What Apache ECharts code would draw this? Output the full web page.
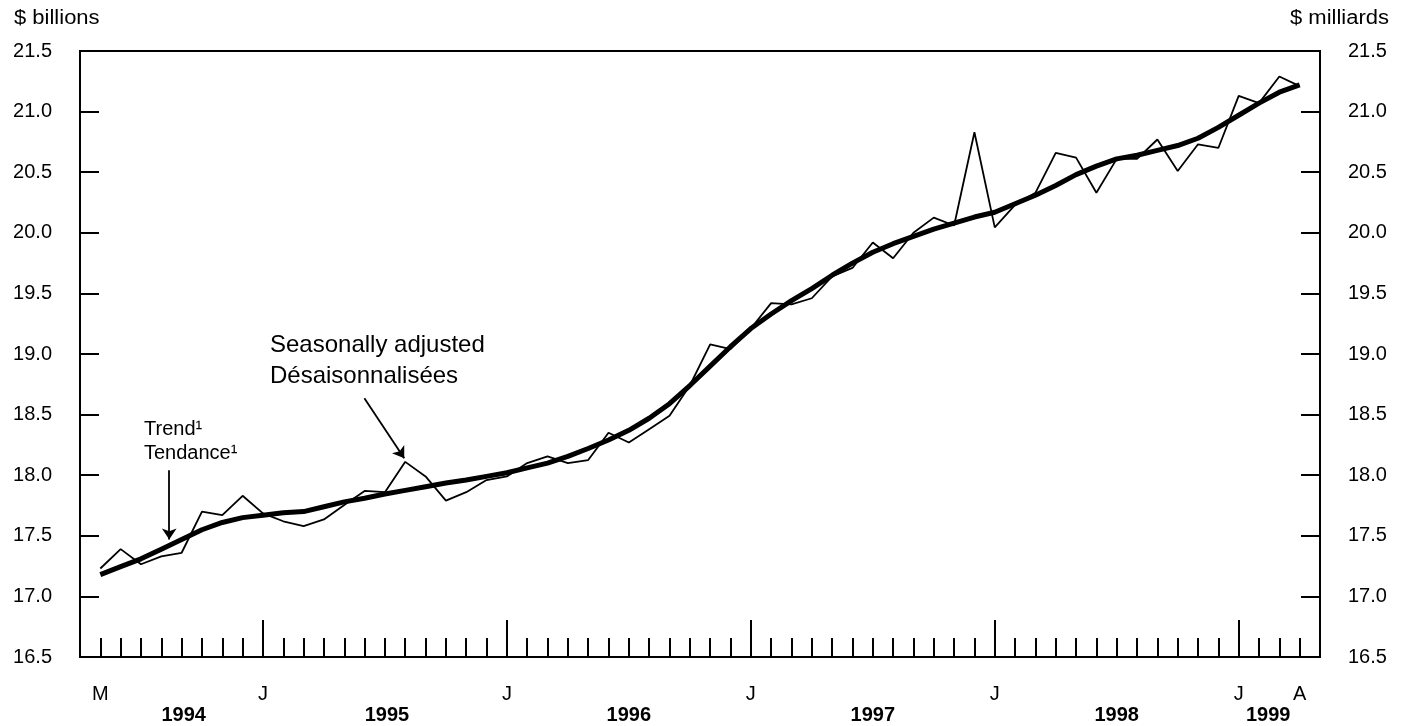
<!DOCTYPE html>
<html>
<head>
<meta charset="utf-8">
<script src="https://cdn.jsdelivr.net/npm/echarts@6/dist/echarts.min.js"></script>
<style>
html,body{margin:0;padding:0;background:#fff;}
#chart{width:1407px;height:726px;}
</style>
</head>
<body>
<div id="chart"></div>
<script>
// Months: index 0 = May 1994 ... index 59 = April 1999
var startYear = 1994, startMonth = 5;
var months = [];
for (var k = 0; k < 60; k++) {
  var m = startMonth - 1 + k;
  months.push((startYear + Math.floor(m / 12)) + '-' + String(m % 12 + 1).padStart(2, '0'));
}

var seasonallyAdjusted = [
  17.23, 17.39, 17.265, 17.33, 17.36, 17.70, 17.67, 17.83,
  17.685, 17.62, 17.58, 17.635, 17.755, 17.87, 17.86, 18.11, 17.99, 17.79, 17.86, 17.96,
  17.99, 18.10, 18.155, 18.10, 18.125, 18.35, 18.27, 18.38, 18.49, 18.74, 19.08, 19.04,
  19.21, 19.42, 19.41, 19.46, 19.64, 19.71, 19.92, 19.79, 20.00, 20.125, 20.06, 20.83,
  20.045, 20.23, 20.33, 20.66, 20.62, 20.33, 20.61, 20.61, 20.77, 20.51, 20.73, 20.70,
  21.13, 21.07, 21.29, 21.21
];

var trend = [
  17.18, 17.245, 17.31, 17.39, 17.47, 17.55, 17.61, 17.65,
  17.67, 17.69, 17.70, 17.74, 17.78, 17.81, 17.845, 17.875, 17.905, 17.935, 17.96, 17.99,
  18.02, 18.06, 18.10, 18.155, 18.22, 18.29, 18.37, 18.47, 18.59, 18.74, 18.90, 19.06,
  19.21, 19.33, 19.44, 19.54, 19.65, 19.75, 19.84, 19.91, 19.97, 20.03, 20.08, 20.13,
  20.17, 20.24, 20.31, 20.39, 20.48, 20.55, 20.61, 20.64, 20.68, 20.72, 20.78, 20.87,
  20.97, 21.07, 21.16, 21.22
];

// Tick labels
var monthLabelPos = [0, 8, 20, 32, 44, 56, 59];
var monthLabelText = ['M', 'J', 'J', 'J', 'J', 'J', 'A'];
var januaryPos = [8, 20, 32, 44, 56];
var yearLabelPos = [4.1, 14.1, 26, 38, 50, 57.45];
var yearLabelText = ['1994', '1995', '1996', '1997', '1998', '1999'];

var shortTicks = [];
for (var t = 0; t < 60; t++) { if (januaryPos.indexOf(t) < 0) shortTicks.push(t); }

var FONT = '"Liberation Sans", Arial, Helvetica, sans-serif';

function pairs(arr) { return arr.map(function (v, i) { return [i, v]; }); }
function lookup(posArr, textArr, v) {
  for (var i = 0; i < posArr.length; i++) if (Math.abs(posArr[i] - v) < 1e-6) return textArr[i];
  return '';
}

var chart = echarts.init(document.getElementById('chart'), null, {renderer: 'canvas'});

function yAxisDef(pos) {
  return {
    type: 'value', position: pos, min: 16.5, max: 21.5, interval: 0.5,
    axisLine: {show: true, onZero: false, lineStyle: {color: '#000', width: 2}},
    axisTick: {show: true, inside: true, length: 19, lineStyle: {color: '#000', width: 2}},
    axisLabel: {show: true, margin: 28, color: '#000', fontSize: 20, fontFamily: FONT,
      formatter: function (v) { return v.toFixed(1); }},
    splitLine: {show: false}
  };
}

chart.setOption({
  animation: false,
  backgroundColor: '#fff',
  grid: {left: 80, right: 87, top: 51, bottom: 69, show: true, borderColor: '#000', borderWidth: 2, containLabel: false},
  xAxis: [
    {
      type: 'value', min: -1, max: 60, position: 'bottom',
      axisLine: {show: true, onZero: false, lineStyle: {color: '#000', width: 2}},
      axisTick: {show: true, inside: true, length: 19, customValues: shortTicks, lineStyle: {color: '#000', width: 2}},
      axisLabel: {show: true, customValues: monthLabelPos, margin: 27, color: '#000', fontSize: 20, fontFamily: FONT,
        formatter: function (v) { return lookup(monthLabelPos, monthLabelText, v); }},
      splitLine: {show: false}
    },
    {
      type: 'value', min: -1, max: 60, position: 'bottom',
      axisLine: {show: false, onZero: false},
      axisTick: {show: true, inside: true, length: 37, customValues: januaryPos, lineStyle: {color: '#000', width: 2}},
      axisLabel: {show: true, customValues: yearLabelPos, margin: 48, color: '#000', fontSize: 20, fontWeight: 'bold', fontFamily: FONT,
        formatter: function (v) { return lookup(yearLabelPos, yearLabelText, v); }},
      splitLine: {show: false}
    }
  ],
  yAxis: [yAxisDef('left'), yAxisDef('right')],
  series: [
    {
      name: 'Trend', type: 'line', xAxisIndex: 0, yAxisIndex: 0,
      data: pairs(trend), showSymbol: false, symbol: 'none',
      lineStyle: {color: '#000', width: 5}, z: 3,
      markLine: {
        silent: true, symbol: ['none', 'arrow'], symbolSize: 11,
        lineStyle: {color: '#000', width: 1.8, type: 'solid'}, label: {show: false},
        emphasis: {disabled: true},
        data: [
          [{coord: [3.39, 18.04], symbol: 'none'}, {coord: [3.39, 17.47], symbol: 'arrow'}],
          [{coord: [12.99, 18.634], symbol: 'none'}, {coord: [14.95, 18.14], symbol: 'arrow'}]
        ]
      }
    },
    {
      name: 'Seasonally adjusted', type: 'line', xAxisIndex: 0, yAxisIndex: 0,
      data: pairs(seasonallyAdjusted), showSymbol: false, symbol: 'none',
      lineStyle: {color: '#000', width: 1.8}, z: 4
    }
  ],
  graphic: [
    {type: 'text', x: 14, y: 8, scaleX: 1.1, style: {text: '$ billions', font: '20px ' + FONT, fill: '#000'}},
    {type: 'text', x: 1389, y: 8, scaleX: 1.1, style: {text: '$ milliards', font: '20px ' + FONT, fill: '#000', textAlign: 'right'}},
    {type: 'text', left: 144, top: 419, style: {text: 'Trend\u00B9', font: '20px ' + FONT, fill: '#000'}},
    {type: 'text', left: 144, top: 443, style: {text: 'Tendance\u00B9', font: '20px ' + FONT, fill: '#000'}},
    {type: 'text', left: 270, top: 333, style: {text: 'Seasonally adjusted', font: '24px ' + FONT, fill: '#000'}},
    {type: 'text', left: 270, top: 364, style: {text: 'D\u00E9saisonnalis\u00E9es', font: '24px ' + FONT, fill: '#000'}}
  ]
});
</script>
</body>
</html>
